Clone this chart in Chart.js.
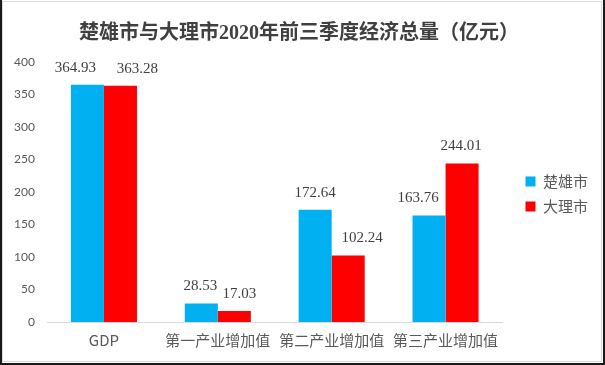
<!DOCTYPE html>
<html>
<head>
<meta charset="utf-8">
<script src="https://cdn.jsdelivr.net/npm/chart.js@4/dist/chart.umd.min.js"></script>
<style>
  html, body { margin: 0; padding: 0; background: #fff; }
  .wrap { position: relative; width: 605px; height: 365px; }
  .frame {
    position: absolute; left: 0; top: 0; width: 605px; height: 365px;
    box-sizing: border-box; pointer-events: none;
    border-left: 2px solid #1a1a1a; border-right: 2px solid #1a1a1a;
    border-bottom: 2px solid #1a1a1a;
  }
  .frame-in {
    position: absolute; left: 2px; top: 1px; width: 600px; height: 361px;
    box-sizing: border-box; border: 1px solid #d9d9d9; pointer-events: none;
  }
  canvas { position: absolute; left: 0; top: 0; }
</style>
</head>
<body>
<div class="wrap">
  <canvas id="chart" width="605" height="365"></canvas>
  <div class="frame"></div>
  <div class="frame-in"></div>
</div>
<script>
// 数据
const categories = ['GDP', '第一产业增加值', '第二产业增加值', '第三产业增加值'];
const chuxiong = [364.93, 28.53, 172.64, 163.76];
const dali = [363.28, 17.03, 102.24, 244.01];
const seriesNames = ['楚雄市', '大理市'];
const yTicks = [0, 50, 100, 150, 200, 250, 300, 350, 400];

// 数值标签的水平微调（原图中标签被手动挪过）
const labelNudge = [
  [-12, -1, 0, -11],
  [17, 5, 14, -1]
];

// 柱顶数值标签
const valueLabels = {
  id: 'valueLabels',
  afterDatasetsDraw(chart) {
    const ctx = chart.ctx;
    ctx.save();
    ctx.font = '15px "Liberation Serif", serif';
    ctx.fillStyle = '#404040';
    ctx.textAlign = 'center';
    ctx.textBaseline = 'middle';
    chart.data.datasets.forEach((ds, i) => {
      chart.getDatasetMeta(i).data.forEach((bar, j) => {
        ctx.fillText(ds.data[j].toFixed(2), bar.x + labelNudge[i][j], bar.y - 17);
      });
    });
    ctx.restore();
  }
};

// 图例与绘图区之间留出空隙，图例略向下
const legendGap = 13;
const legendShiftY = 15;
const legendSpacer = {
  id: 'legendSpacer',
  afterInit(chart) {
    const lg = chart.legend;
    const fit = lg.fit.bind(lg);
    lg.fit = () => { fit(); lg.width += legendGap; };
  },
  afterLayout(chart) {
    const lg = chart.legend;
    lg.left += legendGap;
    lg.top += legendShiftY;
    lg.bottom += legendShiftY;
  }
};

new Chart(document.getElementById('chart'), {
  type: 'bar',
  data: {
    labels: categories,
    datasets: [
      { label: seriesNames[0], data: chuxiong, backgroundColor: '#00B0F0' },
      { label: seriesNames[1], data: dali, backgroundColor: '#FF0000' }
    ]
  },
  options: {
    responsive: false,
    animation: false,
    layout: { padding: { left: 0, right: 7, top: 0, bottom: 7 } },
    datasets: { bar: { barPercentage: 1, categoryPercentage: 0.58 } },
    plugins: {
      title: {
        display: true,
        text: '楚雄市与大理市2020年前三季度经济总量（亿元）',
        color: '#404040',
        font: { family: '"Liberation Serif", "Noto Sans CJK SC", serif', size: 20, weight: 'bold' },
        padding: { top: 22, bottom: 16 }
      },
      legend: {
        position: 'right',
        labels: {
          boxWidth: 10,
          boxHeight: 10,
          color: '#595959',
          font: { family: '"Noto Sans CJK SC", sans-serif', size: 15 },
          padding: 10
        }
      },
      tooltip: { enabled: false }
    },
    scales: {
      x: {
        grid: { display: false, drawTicks: false },
        border: { display: true, color: '#d9d9d9' },
        ticks: {
          color: '#595959',
          padding: 9,
          maxRotation: 0,
          font: { family: '"Noto Sans CJK SC", sans-serif', size: 15 }
        }
      },
      y: {
        min: 0,
        max: 400,
        afterBuildTicks: axis => { axis.ticks = yTicks.map(v => ({ value: v })); },
        afterFit: axis => { axis.width = 47; },
        grid: { display: false, drawTicks: false },
        border: { display: false },
        ticks: {
          color: '#595959',
          padding: 12,
          font: { family: 'Lato, "Liberation Sans", sans-serif', size: 12 }
        }
      }
    }
  },
  plugins: [valueLabels, legendSpacer]
});
</script>
</body>
</html>
